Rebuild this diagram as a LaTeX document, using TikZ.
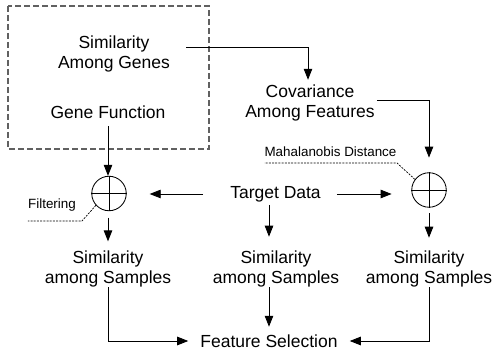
\documentclass[tikz,border=0pt]{standalone}
\usepackage{fontspec}
\setmainfont{Liberation Sans}
\usetikzlibrary{arrows.meta,calc}
\begin{document}
\begin{tikzpicture}[x=1pt,y=-1pt,
  txt/.style={inner sep=0pt,align=center,font=\fontsize{17.5}{20.5}\selectfont},
  note/.style={inner sep=0pt,font=\fontsize{13.4}{15}\selectfont},
  arr/.style={draw=black,line width=0.85pt,-{Triangle[length=11pt,width=8.5pt]}},
  plain/.style={draw=black,line width=0.85pt},
  leader/.style={draw=black,line width=0.7pt,dash pattern=on 2pt off 1.2pt},
  oplus/.style={circle,draw=black,line width=0.85pt,minimum size=34.5pt,inner sep=0pt},
  frame/.style={draw=black!62,line width=1.2pt,dash pattern=on 6pt off 3pt}]
\useasboundingbox (0,0) rectangle (492,352);
\draw[frame] (8,6) rectangle (209,149);
\node[txt] (SG) at (114,53.8) {Similarity\\Among Genes};
\node[txt] (GF) at (108,112) {Gene Function};
\node[txt] (Cov) at (310,103) {Covariance\\Among Features};
\node[txt] (TD) at (275.5,194) {Target Data};
\node[oplus] (C1) at (109,193.5) {};
\node[oplus] (C2) at (429,190) {};
\draw[plain] (C1.north) -- (C1.south) (C1.west) -- (C1.east);
\draw[plain] (C2.north) -- (C2.south) (C2.west) -- (C2.east);
\node[txt] (S1) at (108,268.8) {Similarity\\among Samples};
\node[txt] (S2) at (276,268.8) {Similarity\\among Samples};
\node[txt] (S3) at (429,268.8) {Similarity\\among Samples};
\node[txt] (FS) at (269,341) {Feature Selection};
\node[note] (Fil) at (52,205) {Filtering};
\node[note] (Mah) at (330.5,152) {Mahalanobis Distance};
\coordinate (fk) at (82,221);
\coordinate (mk) at (397,163);
\draw[leader] (C1.222) -- (fk) -- (fk -| Fil.west);
\draw[leader] (C2.143) -- (mk) -- (mk -| Mah.west);
% arrows
\draw[arr,shorten >=4.6pt] ([shift={(16pt,6.8pt)}]SG.east) -| ([xshift=-2pt]Cov.north);
\draw[arr,shorten >=14.7pt] ([shift={(2pt,3pt)}]Cov.east) -| (C2.north);
\draw[arr,shorten <=7.5pt] (GF.south) -- (GF.south |- C1.north);
\draw[arr,shorten <=27pt,shorten >=23pt] (TD.west) -- (TD.west -| C1.east);
\draw[arr,shorten <=16pt,shorten >=19.7pt] (TD.east) -- (TD.east -| C2.west);
\draw[arr,shorten <=2.8pt,shorten >=13.5pt] ([xshift=-6.5pt]TD.south) -- ([xshift=-6.5pt]TD.south |- S2.north);
\draw[arr,shorten <=6.5pt,shorten >=8.8pt] (C1.south -| S1.north) -- (S1.north);
\draw[arr,shorten <=5.7pt,shorten >=12.5pt] (C2.south) -- (S3.north);
\draw[arr,shorten >=12pt] (S1.south) |- (FS.west);
\draw[arr,shorten >=7.6pt] (FS.north |- S2.south) -- (FS.north);
\draw[arr,shorten >=12pt] (S3.south) |- (FS.east);
\end{tikzpicture}
\end{document}
